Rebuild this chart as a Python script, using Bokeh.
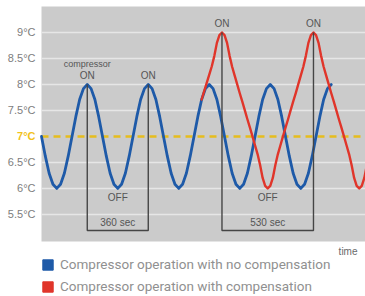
from bokeh.plotting import figure
from bokeh.models import Range1d, FixedTicker, Legend, LegendItem, ColumnDataSource
from bokeh.embed import file_html
from bokeh.resources import INLINE
from bokeh.core.properties import value

# ---------------- data (time in seconds, temperature in °C) ----------------
blue_t = [0, 22.5, 45, 67.5, 90, 112.5, 135, 157.5, 180, 202.5, 225, 247.5, 270, 292.5, 315, 337.5,
          360, 382.5, 405, 427.5, 450, 472.5, 495, 517.5, 540, 562.5, 585, 607.5, 630, 652.5, 675, 697.5,
          720, 742.5, 765, 787.5, 810, 832.5, 855, 877.5, 900, 922.5, 945, 967.5, 990, 1012.5, 1035, 1057.5,
          1080, 1102.5, 1125, 1147.5, 1170, 1192.5, 1215, 1237.5, 1260, 1282.5, 1305, 1327.5, 1350, 1372.5, 1395, 1417.5,
          1440, 1462.5, 1485, 1507.5, 1530, 1552.5, 1575, 1597.5, 1620, 1642.5, 1665, 1687.5, 1710]
blue_v = [7.00, 6.62, 6.29, 6.08, 6.00, 6.08, 6.29, 6.62, 7.00, 7.38, 7.71, 7.92, 8.00, 7.92, 7.71, 7.38,
          7.00, 6.62, 6.29, 6.08, 6.00, 6.08, 6.29, 6.62, 7.00, 7.38, 7.71, 7.92, 8.00, 7.92, 7.71, 7.38,
          7.00, 6.62, 6.29, 6.08, 6.00, 6.08, 6.29, 6.62, 7.00, 7.38, 7.71, 7.92, 8.00, 7.92, 7.71, 7.38,
          7.00, 6.62, 6.29, 6.08, 6.00, 6.08, 6.29, 6.62, 7.00, 7.38, 7.71, 7.92, 8.00, 7.92, 7.71, 7.38,
          7.00, 6.62, 6.29, 6.08, 6.00, 6.08, 6.29, 6.62, 7.00, 7.38, 7.71, 7.92, 8.00]

red_t = [945, 960, 975, 990, 1005, 1020, 1035, 1050, 1065, 1080, 1095, 1110, 1125, 1140, 1155, 1170,
         1185, 1200, 1215, 1230, 1245, 1260, 1275, 1290, 1305, 1320, 1335, 1350, 1365, 1380, 1395, 1410,
         1425, 1440, 1455, 1470, 1485, 1500, 1515, 1530, 1545, 1560, 1575, 1590, 1605, 1620, 1635, 1650,
         1665, 1680, 1695, 1710, 1725, 1740, 1755, 1770, 1785, 1800, 1815, 1830, 1845, 1860, 1875, 1890,
         1905, 1920]
red_v = [7.71, 7.87, 8.03, 8.19, 8.35, 8.55, 8.80, 8.95, 9.00, 8.95, 8.80, 8.55, 8.34, 8.17, 8.00, 7.83,
         7.67, 7.50, 7.33, 7.17, 7.00, 6.83, 6.66, 6.45, 6.20, 6.05, 6.00, 6.05, 6.20, 6.45, 6.66, 6.83,
         7.00, 7.17, 7.33, 7.50, 7.67, 7.83, 8.00, 8.17, 8.34, 8.55, 8.80, 8.95, 9.00, 8.95, 8.80, 8.55,
         8.34, 8.17, 8.00, 7.83, 7.67, 7.50, 7.33, 7.17, 7.00, 6.83, 6.66, 6.45, 6.20, 6.05, 6.00, 6.05,
         6.20, 6.45]

setpoint = 7.0
y_ticks = [5.5, 6.0, 6.5, 7.0, 7.5, 8.0, 8.5, 9.0]
y_tick_labels = ["5.5°C", "6°C", "6.5°C", "", "7.5°C", "8°C", "8.5°C", "9°C"]
setpoint_label = "7°C"

# plot-area extent (time in s, temperature in °C)
area_t = [0, 1912]
area_v = [4.98, 9.5]

blue_on_times = [270, 630]      # compressor ON peaks (8 °C)
blue_on_temp = 8.0
blue_off_time = 450
red_on_times = [1065, 1605]     # compressor ON peaks (9 °C)
red_on_temp = 9.0
red_off_time = 1335
box_floor = 5.19
label_blue_period = "360 sec"
label_red_period = "530 sec"
legend_labels = ["Compressor operation with no compensation", "Compressor operation with compensation"]

BLUE = "#1e5aa8"
RED = "#e0352a"
YELLOW = "#e6bd1e"
GREY_TXT = "#555555"

# ---------------- figure (frame covers whole canvas) ----------------
p = figure(width=365, height=296, output_backend="svg", toolbar_location=None,
           x_range=Range1d(-242, 1912), y_range=Range1d(3.92, 9.615),
           x_axis_type=None, min_border=0)
p.outline_line_color = None
p.background_fill_color = "white"
p.border_fill_color = "white"

# grey plot area
p.quad(left=[area_t[0]], right=[area_t[1]], bottom=[area_v[0]], top=[area_v[1]],
       fill_color="#cbcbcb", line_color=None, level="image")

# y axis drawn at the left edge of the plot area
yax = p.yaxis[0]
yax.fixed_location = area_t[0]
yax.ticker = FixedTicker(ticks=y_ticks)
yax.major_label_overrides = {t: l for t, l in zip(y_ticks, y_tick_labels)}
yax.axis_line_color = None
yax.major_tick_line_color = None
yax.minor_tick_line_color = None
yax.major_tick_out = 0
yax.major_tick_in = 0
yax.major_label_standoff = 6
yax.major_label_text_font = "Liberation Sans"
yax.major_label_text_font_size = "11px"
yax.major_label_text_color = "#7d7d7d"

# horizontal grid lines limited to the plot area
p.xgrid.visible = False
p.ygrid.visible = False
grid_v = [t for t in y_ticks if t != setpoint]
p.segment(x0=[area_t[0]] * len(grid_v), x1=[area_t[1]] * len(grid_v), y0=grid_v, y1=grid_v,
          line_color="#e6e6e6", line_width=1.5, level="underlay")

# setpoint dashed line + label
p.line(area_t, [setpoint, setpoint], line_color=YELLOW, line_width=2.5, line_dash="7 5")
p.text(x=[area_t[0]], y=[setpoint], text=[setpoint_label], x_offset=-6, text_align="right",
       text_baseline="middle", text_font=value("Liberation Sans"), text_font_style="bold",
       text_font_size="11px", text_color="#f2c21b")

# curves
p.line(blue_t, blue_v, line_color=BLUE, line_width=2.8, line_join="round", line_cap="round")
p.line(red_t, red_v, line_color=RED, line_width=2.4, line_join="round", line_cap="round")

# period boxes
box1_x = [blue_on_times[0], blue_on_times[0], blue_on_times[1], blue_on_times[1]]
box1_y = [blue_on_temp, box_floor, box_floor, blue_on_temp]
box2_x = [red_on_times[0], red_on_times[0], red_on_times[1], red_on_times[1]]
box2_y = [red_on_temp, box_floor, box_floor, red_on_temp]
p.line(box1_x, box1_y, line_color="#454545", line_width=1.4)
p.line(box2_x, box2_y, line_color="#454545", line_width=1.4)

# annotation texts
ann = ColumnDataSource(dict(
    x=[blue_on_times[0], blue_on_times[0], blue_on_times[1], blue_off_time, blue_off_time,
       red_on_times[0], red_on_times[1], red_off_time, red_off_time],
    y=[blue_on_temp + 0.40, blue_on_temp + 0.17, blue_on_temp + 0.17, 5.83, 5.35,
       red_on_temp + 0.17, red_on_temp + 0.17, 5.83, 5.35],
    t=["compressor", "ON", "ON", "OFF", label_blue_period,
       "ON", "ON", "OFF", label_red_period],
    s=["9px", "10px", "10px", "10px", "10px", "10px", "10px", "10px", "10px"],
))
p.text(x="x", y="y", text="t", source=ann, text_font=value("Liberation Sans"),
       text_font_size="s", text_color=GREY_TXT, text_align="center", text_baseline="middle")

# "time" caption under the plot area, right aligned
p.text(x=[area_t[1]], y=[area_v[0]], text=["time"], x_offset=-8, y_offset=10,
       text_align="right", text_baseline="middle", text_font=value("Liberation Sans"),
       text_font_size="10px", text_color="#6a6a6a")

# legend (square swatches; renderers hold a single undrawn NaN quad)
nan = float("nan")
r_blue = p.quad(left=[nan], right=[nan], top=[nan], bottom=[nan], fill_color=BLUE, line_color=BLUE)
r_red = p.quad(left=[nan], right=[nan], top=[nan], bottom=[nan], fill_color=RED, line_color=RED)
legend = Legend(items=[LegendItem(label=legend_labels[0], renderers=[r_blue]),
                       LegendItem(label=legend_labels[1], renderers=[r_red])],
                location=(41, 2), orientation="vertical", margin=0, padding=2,
                spacing=6, glyph_width=13, glyph_height=13, label_standoff=6,
                label_height=13, label_text_font="Roboto",
                label_text_font_size="13.5px", label_text_color="#909090",
                border_line_color=None, background_fill_alpha=0)
p.add_layout(legend, "center")

open("out.html", "w").write(file_html(p, INLINE))
